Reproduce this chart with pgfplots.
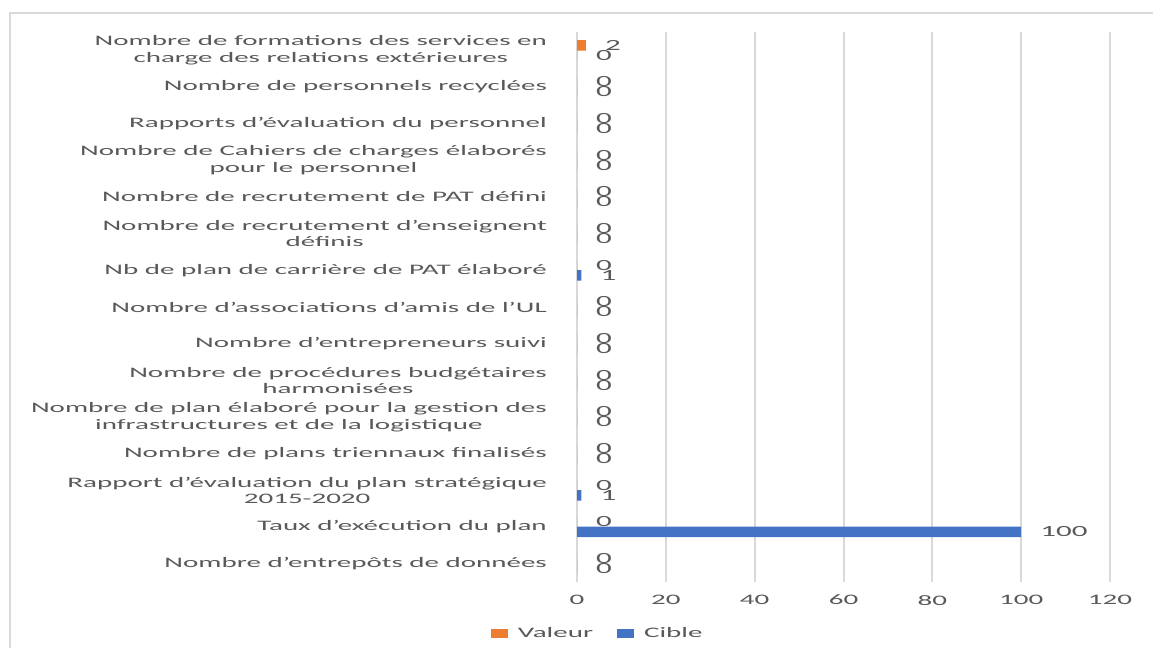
\documentclass[border=0pt]{standalone}
\usepackage{fontspec}
\setmainfont{Carlito}[FakeStretch=2.0]
\usepackage{pgfplots}
\pgfplotsset{compat=1.18}
\definecolor{txt}{HTML}{595959}
\definecolor{gridc}{HTML}{D9D9D9}
\definecolor{orng}{HTML}{ED7D31}
\definecolor{blu}{HTML}{4472C4}
\begin{document}
\fontsize{14.5bp}{17bp}\selectfont
\begin{tikzpicture}[x=1bp,y=1bp]
\useasboundingbox (0,0) rectangle (1153,648);
\draw[gridc, line width=1.5bp] (10,0) -- (10,635) -- (1153,635);
\begin{axis}[
 at={(577bp,66bp)}, anchor=south west,
 scale only axis, width=533bp, height=550bp,
 xbar, bar width=10.5bp,
 xmin=0, xmax=120, ymin=-0.5, ymax=14.5,
 xtick={0,20,...,120},
 ytick={0,...,14},
 yticklabels={
  {Nombre d’entrepôts de données},
  {Taux d’exécution du plan},
  {Rapport d'évaluation du plan stratégique\\2015-2020},
  {Nombre de plans triennaux finalisés},
  {Nombre de plan élaboré pour la gestion des\\infrastructures et de la logistique},
  {Nombre de procédures budgétaires\\harmonisées},
  {Nombre d’entrepreneurs suivi},
  {Nombre d’associations d'amis de l'UL},
  {Nb de plan de carrière de PAT élaboré},
  {Nombre de recrutement d'enseignent\\définis},
  {Nombre de recrutement de PAT défini},
  {Nombre de Cahiers de charges élaborés\\pour le personnel},
  {Rapports d’évaluation du personnel},
  {Nombre de personnels recyclées},
  {Nombre de formations des services en\\charge des relations extérieures}},
 major tick length=0pt,
 axis line style={draw=none},
 xmajorgrids, grid style={gridc, line width=2bp},
 tick label style={text=txt, font=\fontsize{14.5bp}{16.5bp}\selectfont},
 yticklabel style={align=center, anchor=east, inner sep=0pt, xshift=-30bp},
 xticklabel style={anchor=north, inner sep=0pt, yshift=-13bp},
 /pgf/number format/assume math mode=true,
 nodes near coords,
 nodes near coords style={anchor=west, inner sep=0pt, xshift=19bp, text=txt, font=\fontsize{15.5bp}{16bp}\selectfont},
 legend columns=2,
 legend cell align=left,
 legend style={at={(0.039,-0.0945)}, anchor=center, draw=none, fill=none,
   font=\fontsize{14.5bp}{16bp}\selectfont, text=txt,
   /tikz/every even column/.append style={column sep=22bp}},
 legend image code/.code={\draw[#1,draw=none] (0bp,-4.5bp) rectangle (17bp,4.5bp); \path (25bp,0bp);},
]
\addplot[fill=orng, draw=none, bar shift=5bp] coordinates {
 (0,0) (0,1) (0,2) (0,3) (0,4) (0,5) (0,6) (0,7) (0,8) (0,9) (0,10) (0,11) (0,12) (0,13) (2,14)};
\addlegendentry{Valeur}
\addplot[fill=blu, draw=none, bar shift=-5bp] coordinates {
 (0,0) (100,1) (1,2) (0,3) (0,4) (0,5) (0,6) (0,7) (1,8) (0,9) (0,10) (0,11) (0,12) (0,13) (0,14)};
\addlegendentry{Cible}
\end{axis}
\end{tikzpicture}
\end{document}
